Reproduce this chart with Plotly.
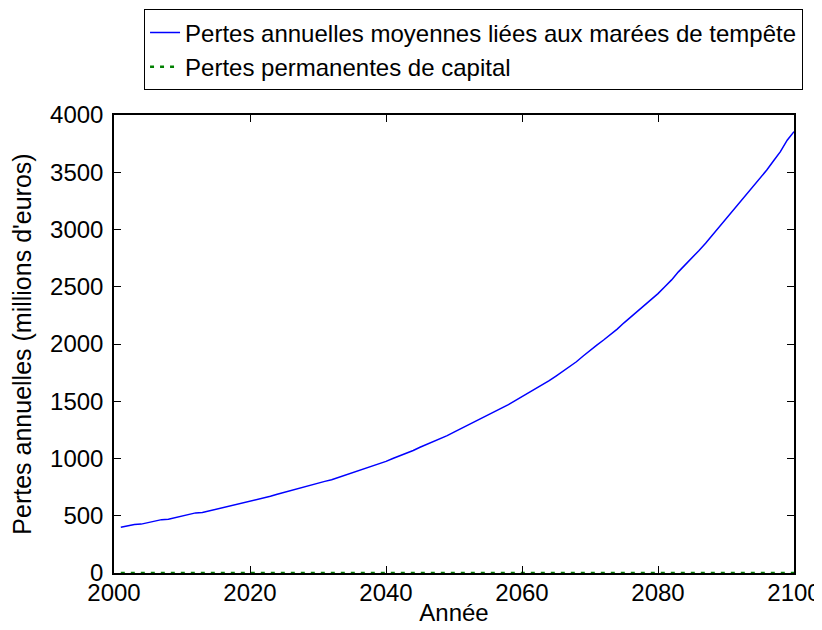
import plotly.graph_objects as go

# Annual losses (millions of euros)
years = list(range(2001, 2101))
storm_losses = [
    400, 413, 424, 427, 440, 453, 466, 470, 484, 500,
    514, 525, 528, 542, 556, 569, 582, 595, 608, 622,
    640, 655, 670, 688, 705, 720, 735, 750, 766, 785,
    800, 815, 835, 855, 875, 893, 910, 932, 955, 975,
    1000, 1022, 1045, 1070, 1098, 1123, 1150, 1175, 1200, 1230,
    1260, 1288, 1315, 1345, 1378, 1410, 1440, 1470, 1505, 1540,
    1572, 1605, 1640, 1680, 1720, 1760, 1800, 1845, 1895, 1945,
    1990, 2035, 2080, 2130, 2185, 2235, 2285, 2340, 2390, 2440,
    2500, 2560, 2630, 2690, 2750, 2815, 2880, 2950, 3020, 3090,
    3160, 3230, 3300, 3380, 3445, 3520, 3600, 3680, 3780, 3855,
]
capital_losses = [0] * len(years)

x_ticks = [2000, 2020, 2040, 2060, 2080, 2100]
y_ticks = [0, 500, 1000, 1500, 2000, 2500, 3000, 3500, 4000]

fig = go.Figure()
fig.add_trace(go.Scatter(
    x=years, y=storm_losses, mode="lines",
    name="Pertes annuelles moyennes liées aux marées de tempête",
    line=dict(color="#0000ff", width=1.5),
))
fig.add_trace(go.Scatter(
    x=years, y=capital_losses, mode="lines",
    name="Pertes permanentes de capital",
    line=dict(color="#008000", width=2.5, dash="4px,6px"),
    cliponaxis=False,
))

axis_style = dict(
    showline=True, linecolor="black", linewidth=1.5, mirror="ticks",
    ticks="inside", ticklen=7, tickcolor="black", tickwidth=1.2,
    showgrid=False, zeroline=False, automargin=False,
    tickfont=dict(size=24, color="black"),
)

# the page puts the figure ~8px in from the window corner
fig.update_layout(
    width=814, height=622,
    margin=dict(l=106, r=28, t=107, b=57, autoexpand=False),
    paper_bgcolor="white", plot_bgcolor="white",
    font=dict(family="Liberation Sans, Arial, sans-serif", size=24, color="black"),
    xaxis=dict(range=[2000, 2100], tickvals=x_ticks, ticklabelstandoff=-3,
               title=dict(text="Année", font=dict(size=24), standoff=0), **axis_style),
    yaxis=dict(range=[0, 4000], tickvals=y_ticks, ticklabelstandoff=4,
               title=dict(text="Pertes annuelles (millions d'euros)", font=dict(size=25), standoff=16),
               **axis_style),
    legend=dict(x=1.013, xanchor="right", y=1.231, yanchor="top",
                bordercolor="black", borderwidth=1.2, bgcolor="white",
                font=dict(size=24), tracegroupgap=0, itemwidth=30),
    showlegend=True,
)

fig.write_html("out.html")
